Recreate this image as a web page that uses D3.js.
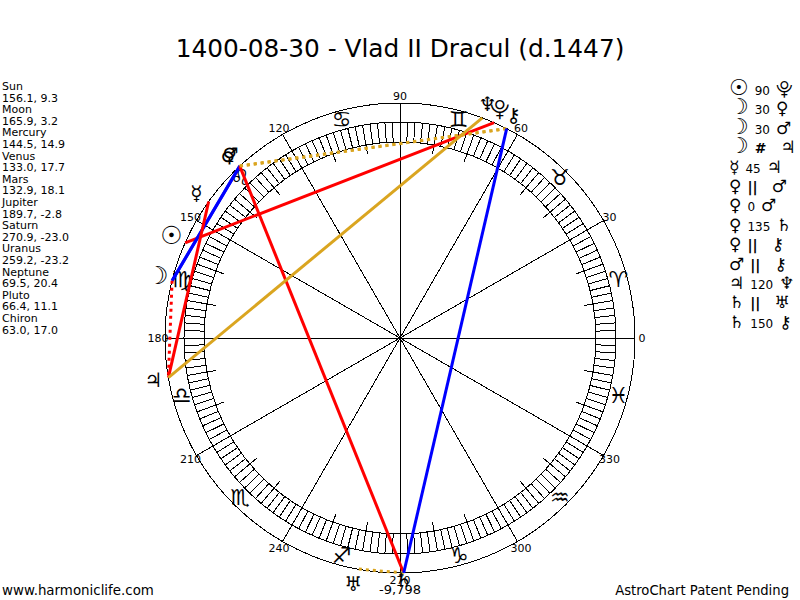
<!DOCTYPE html>
<html lang="en">
  <head>
    <meta charset="utf-8" />
    <title>1400-08-30 - Vlad II Dracul</title>
    <script type="text/javascript" src="https://d3js.org/d3.v7.min.js"></script>
    <style>
      body { margin: 0; background: #fff; }
      text { font-family: "DejaVu Sans", sans-serif; fill: #000; }
    </style>
  </head>
  <body>
    <div id="graph"></div>

    <script type="text/javascript">
      /********************************
       * data
       ********************************/
      const planetNames = ["Sun", "Moon", "Mercury", "Venus", "Mars", "Jupiter", "Saturn", "Uranus", "Neptune", "Pluto", "Chiron"];
      const longitudes = [156.1, 165.9, 144.5, 133.0, 132.9, 189.7, 270.9, 259.2, 69.5, 66.4, 63.0];
      const latitudes = ["9.3", "3.2", "14.9", "17.7", "18.1", "-2.8", "-23.0", "-23.2", "20.4", "11.1", "17.0"];
      const planetGlyphs = ["\u2609", "\u263D", "\u263F", "\u2640", "\u2642", "\u2643", "\u2644", "\u2645", "\u2646", "\u2BD3", "\u26B7"];

      const zodiacGlyphs = ["\u2648", "\u2649", "\u264A", "\u264B", "\u264C", "\u264D", "\u264E", "\u264F", "\u2650", "\u2651", "\u2652", "\u2653"];
      const zodiacCentres = [15, 45, 75, 105, 135, 165, 195, 225, 255, 285, 315, 345];

      const degreeLabels = [0, 30, 60, 90, 120, 150, 180, 210, 240, 270, 300, 330];

      // from, aspect, to
      const aspectFrom = ["Sun", "Moon", "Moon", "Moon", "Mercury", "Venus", "Venus", "Venus", "Venus", "Mars", "Jupiter", "Saturn", "Saturn"];
      const aspectKind = ["90", "30", "30", "#", "45", "||", "0", "135", "||", "||", "120", "||", "150"];
      const aspectTo = ["Pluto", "Venus", "Mars", "Jupiter", "Jupiter", "Mars", "Mars", "Saturn", "Chiron", "Chiron", "Neptune", "Uranus", "Chiron"];

      const title = "1400-08-30 - Vlad II Dracul (d.1447)";
      const yearLabel = "-9,798";

      /***************************
       * create svg
       **************************/
      const width = 800;
      const height = 600;
      const cx = 400;
      const cy = 338;

      const svg = d3
        .select("div#graph")
        .append("svg")
        .attr("width", width)
        .attr("height", height)
        .style("display", "block");

      svg
        .append("text")
        .attr("x", 400)
        .attr("y", 57)
        .attr("text-anchor", "middle")
        .attr("font-size", 24.8)
        .text(title);

      /****************************
       * scales
       *************************/
      // longitude runs counter clockwise from 3 o'clock
      const angle = d3.scaleLinear().domain([0, 360]).range([Math.PI / 2, Math.PI / 2 - 2 * Math.PI]);
      const radius = { outer: 235, ringOut: 216, ringIn: 196, tick: 187, label: 242, planet: 250, zodiac: 226 };

      const pos = (deg, r) => {
        const p = d3.pointRadial(angle(deg), r);
        return [cx + p[0], cy + p[1]];
      };

      const wheel = svg.append("g").attr("shape-rendering", "crispEdges");

      /*********************************
       * wheel
       *******************************/
      [radius.outer, radius.ringOut, radius.ringIn].forEach((r) => {
        wheel
          .append("circle")
          .attr("cx", cx)
          .attr("cy", cy)
          .attr("r", r)
          .attr("fill", "none")
          .attr("stroke", "#000")
          .attr("stroke-width", 1);
      });

      const radial = (deg, r0, r1) => {
        const a = pos(deg, r0);
        const b = pos(deg, r1);
        wheel
          .append("line")
          .attr("x1", a[0])
          .attr("y1", a[1])
          .attr("x2", b[0])
          .attr("y2", b[1])
          .attr("stroke", "#000")
          .attr("stroke-width", 1);
      };

      d3.range(0, 360, 2).forEach((d) => radial(d, radius.ringIn, radius.ringOut));
      d3.range(0, 360, 10).forEach((d) => {
        if (d % 30 === 0) radial(d, 0, radius.outer);
        else radial(d, radius.tick, radius.ringIn);
      });

      // degree labels
      svg
        .append("g")
        .selectAll("text")
        .data(degreeLabels)
        .enter()
        .append("text")
        .attr("x", (d) => pos(d, radius.label)[0])
        .attr("y", (d) => pos(d, radius.label)[1] + 4)
        .attr("text-anchor", "middle")
        .attr("font-size", 11)
        .attr("fill", "#222")
        .text((d) => d);

      svg
        .append("text")
        .attr("x", 400)
        .attr("y", 594)
        .attr("text-anchor", "middle")
        .attr("font-size", 13)
        .text(yearLabel);

      // sign glyphs
      svg
        .append("g")
        .selectAll("text")
        .data(zodiacGlyphs)
        .enter()
        .append("text")
        .attr("x", (d, i) => pos(zodiacCentres[i], radius.zodiac)[0])
        .attr("y", (d, i) => pos(zodiacCentres[i], radius.zodiac)[1] + 7)
        .attr("text-anchor", "middle")
        .attr("font-size", 22)
        .text((d) => d + "\uFE0E");

      /*******************************
       * aspect lines
       *******************************/
      const lon = (name) => longitudes[planetNames.indexOf(name)];
      const aspectStyle = (kind) => {
        if (kind === "#") return { color: "#ff0000", dash: "3,4" };
        if (kind === "||") return { color: "#daa520", dash: "3,4" };
        if (kind === "30" || kind === "150") return { color: "#0000ff", dash: null };
        if (kind === "0" || kind === "120" || kind === "60") return { color: "#daa520", dash: null };
        return { color: "#ff0000", dash: null };
      };

      svg
        .append("g")
        .selectAll("line")
        .data(aspectKind)
        .enter()
        .append("line")
        .attr("x1", (d, i) => pos(lon(aspectFrom[i]), radius.outer)[0])
        .attr("y1", (d, i) => pos(lon(aspectFrom[i]), radius.outer)[1])
        .attr("x2", (d, i) => pos(lon(aspectTo[i]), radius.outer)[0])
        .attr("y2", (d, i) => pos(lon(aspectTo[i]), radius.outer)[1])
        .attr("stroke", (d) => aspectStyle(d).color)
        .attr("stroke-dasharray", (d) => aspectStyle(d).dash)
        .attr("stroke-width", 3);

      /*******************************
       * planet glyphs
       *******************************/
      // sun and moon are heavier and larger in the original glyph set
      const heavy = (name) => name === "Sun" || name === "Moon";

      svg
        .append("g")
        .selectAll("text")
        .data(planetGlyphs)
        .enter()
        .append("text")
        .attr("x", (d, i) => pos(longitudes[i], planetNames[i] === "Saturn" ? radius.label : radius.planet)[0])
        .attr("y", (d, i) => pos(longitudes[i], planetNames[i] === "Saturn" ? radius.label : radius.planet)[1] + 7)
        .attr("text-anchor", "middle")
        .attr("font-size", (d, i) => (heavy(planetNames[i]) ? 25 : 20))
        .attr("font-weight", (d, i) => (heavy(planetNames[i]) ? "bold" : null))
        .text((d) => d + "\uFE0E");

      /*******************************
       * left list
       *******************************/
      const listRows = planetNames.flatMap((n, i) => [n, `${longitudes[i].toFixed(1)}, ${latitudes[i]}`]);
      svg
        .append("g")
        .selectAll("text")
        .data(listRows)
        .enter()
        .append("text")
        .attr("x", 2)
        .attr("y", (d, i) => 90 + i * 11.6)
        .attr("font-size", 11)
        .text((d) => d);

      /*******************************
       * right list
       *******************************/
      const glyphOf = (name) => planetGlyphs[planetNames.indexOf(name)] + "\uFE0E";
      const rows = svg
        .append("g")
        .selectAll("text")
        .data(aspectKind)
        .enter()
        .append("text")
        .attr("x", 729)
        .attr("y", (d, i) => 95 + i * 19.4)
        .attr("font-size", 12);

      rows
        .append("tspan")
        .attr("font-size", (d, i) => (heavy(aspectFrom[i]) ? 22 : 17))
        .attr("font-weight", (d, i) => (heavy(aspectFrom[i]) ? "bold" : null))
        .text((d, i) => glyphOf(aspectFrom[i]));
      rows
        .append("tspan")
        .attr("dx", 6)
        .attr("font-weight", (d) => (d === "||" || d === "#" ? "bold" : null))
        .attr("font-size", (d) => (d === "||" || d === "#" ? 14 : 12))
        .text((d) => d);
      rows
        .append("tspan")
        .attr("dx", (d) => (d === "||" || d === "#" ? 14 : 6))
        .attr("font-size", 17)
        .text((d, i) => glyphOf(aspectTo[i]));

      /*******************************
       * footer
       *******************************/
      svg
        .append("text")
        .attr("x", 2)
        .attr("y", 595)
        .attr("font-size", 13.4)
        .text("www.harmoniclife.com");

      svg
        .append("text")
        .attr("x", 789)
        .attr("y", 595)
        .attr("text-anchor", "end")
        .attr("font-size", 13.2)
        .text("AstroChart Patent Pending");
    </script>
  </body>
</html>
